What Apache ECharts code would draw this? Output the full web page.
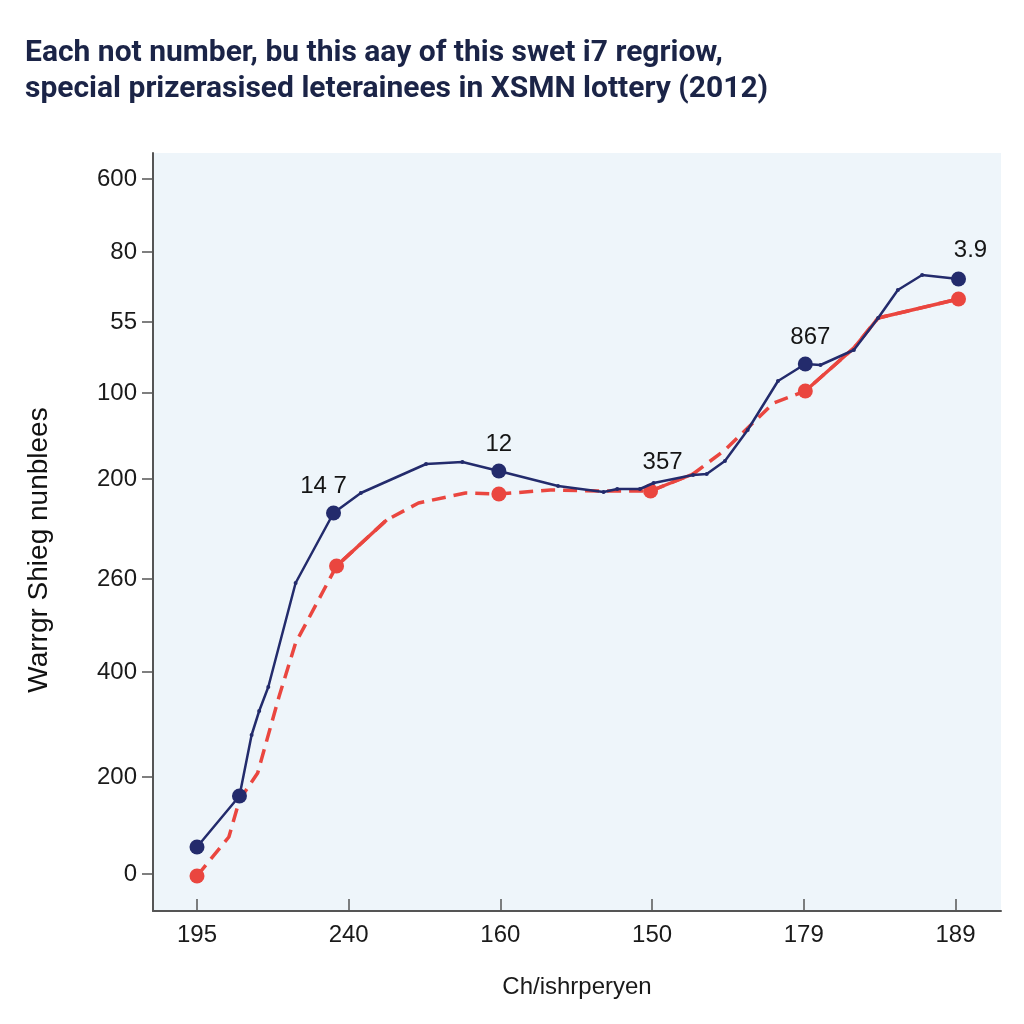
<!DOCTYPE html>
<html>
<head>
<meta charset="utf-8">
<script src="https://cdn.jsdelivr.net/npm/echarts@6/dist/echarts.min.js"></script>
<style>
html,body{margin:0;padding:0;background:#ffffff;}
#chart{width:1024px;height:1024px;}
</style>
</head>
<body>
<div id="chart"></div>
<script>
// ---- data ----
const titleLines = ['Each not number, bu this aay of this swet i7 regriow,', 'special prizerasised leterainees in XSMN lottery (2012)'];
const xAxisName = 'Ch/ishrperyen';
const yAxisName = 'Warrgr Shieg nunblees';

const xTickValues = [0, 1, 2, 3, 4, 5];
const xTickLabels = ['195', '240', '160', '150', '179', '189'];
const yTickValues = [0, 0.97, 2.02, 2.95, 3.95, 4.81, 5.52, 6.22, 6.95];
const yTickLabels = ['0', '200', '400', '260', '200', '100', '55', '80', '600'];

const navyX = [0.00, 0.28, 0.36, 0.41, 0.47, 0.65, 0.90, 1.08, 1.51, 1.75, 1.99, 2.38, 2.68, 2.77, 2.92, 3.01, 3.27, 3.36, 3.48, 3.63, 3.83, 4.01, 4.11, 4.33, 4.49, 4.62, 4.78, 5.02];
const navyY = [0.27, 0.78, 1.39, 1.63, 1.87, 2.91, 3.61, 3.81, 4.10, 4.12, 4.03, 3.88, 3.82, 3.85, 3.85, 3.91, 3.99, 4.00, 4.13, 4.44, 4.93, 5.10, 5.09, 5.24, 5.56, 5.84, 5.99, 5.95];
const navyKey = [0, 1, 6, 10, 21, 27];
const navyLabels = {6: '14 7', 10: '12', 21: '867', 27: '3.9'};

const redX = [0.00, 0.21, 0.28, 0.40, 0.54, 0.65, 0.92, 1.25, 1.46, 1.77, 1.99, 2.33, 2.66, 2.99, 3.27, 3.48, 3.80, 4.01, 4.33, 4.49, 5.02];
const redY = [-0.02, 0.37, 0.74, 1.01, 1.77, 2.31, 3.08, 3.54, 3.71, 3.81, 3.80, 3.84, 3.83, 3.83, 4.00, 4.24, 4.71, 4.83, 5.26, 5.56, 5.75];
const redKey = [0, 6, 10, 13, 17, 20];
const redLabels = {13: '357'};
const redSolidSegments = [[6, 7], [13, 14], [17, 20]];

// ---- chart ----
const NAVY = '#232b6c';
const RED = '#ea463f';
const FONT = 'Liberation Sans';

function nearestLabel(v, vals, labels) {
  let best = 0, bd = Infinity;
  vals.forEach((t, i) => { const d = Math.abs(t - v); if (d < bd) { bd = d; best = i; } });
  return labels[best];
}

const labelOffsets = {navy: {6: [-10, 0], 10: [0, 0], 21: [5, 0], 27: [12, -2]}, red: {13: [12, -2]}};

function buildData(xs, ys, keys, labels, offs, minorSize) {
  return xs.map((x, i) => {
    const item = {value: [x, ys[i]], symbolSize: keys.includes(i) ? 15 : minorSize};
    if (labels[i] !== undefined) {
      item.label = {show: true, formatter: labels[i], position: 'top', distance: 7,
        offset: offs[i] || [0, 0], color: '#151515', fontSize: 24, fontFamily: FONT};
    }
    return item;
  });
}

const series = [];
series.push({
  type: 'line', name: 'red', z: 3,
  data: buildData(redX, redY, redKey, redLabels, labelOffsets.red, 0),
  symbol: 'circle', showAllSymbol: true,
  itemStyle: {color: RED},
  lineStyle: {color: RED, width: 3.5, type: [14, 8]},
  animation: false
});
redSolidSegments.forEach(seg => {
  const d = [];
  for (let i = seg[0]; i <= seg[1]; i++) d.push([redX[i], redY[i]]);
  series.push({type: 'line', z: 3, data: d, symbol: 'none', silent: true,
    lineStyle: {color: RED, width: 3.5}, animation: false});
});
series.push({
  type: 'line', name: 'navy', z: 4,
  data: buildData(navyX, navyY, navyKey, navyLabels, labelOffsets.navy, 4),
  symbol: 'circle', showAllSymbol: true,
  itemStyle: {color: NAVY},
  lineStyle: {color: NAVY, width: 2.5},
  animation: false
});

const chart = echarts.init(document.getElementById('chart'), null, {renderer: 'canvas'});
chart.setOption({
  backgroundColor: '#ffffff',
  animation: false,
  title: {
    text: titleLines.join('\n'),
    left: 20, top: 30,
    textStyle: {fontSize: 30, fontWeight: 'bold', color: '#1b2447', lineHeight: 36, fontFamily: 'Roboto'}
  },
  grid: {left: 153, right: 23, top: 153, bottom: 113, show: true,
    backgroundColor: '#eef5fa', borderWidth: 0},
  xAxis: {
    type: 'value', min: -0.29, max: 5.30,
    name: xAxisName, nameLocation: 'middle', nameGap: 64,
    nameTextStyle: {fontSize: 24, color: '#1a1a1a', fontFamily: FONT},
    axisLine: {onZero: false, lineStyle: {color: '#555', width: 2}},
    axisTick: {show: true, inside: true, length: 12, customValues: xTickValues, lineStyle: {color: '#555', width: 1.5}},
    axisLabel: {customValues: xTickValues, margin: 12, fontSize: 24, color: '#1a1a1a', fontFamily: FONT,
      formatter: v => nearestLabel(v, xTickValues, xTickLabels)},
    splitLine: {show: false}
  },
  yAxis: {
    type: 'value', min: -0.37, max: 7.21,
    name: yAxisName, nameLocation: 'middle', nameGap: 100, nameRotate: 90,
    nameTextStyle: {fontSize: 28, color: '#111', fontFamily: FONT, padding: [0, 36, 0, 0]},
    axisLine: {show: true, onZero: false, lineStyle: {color: '#555', width: 2}},
    axisTick: {show: true, inside: false, length: 11, customValues: yTickValues, lineStyle: {color: '#555', width: 1.5}},
    axisLabel: {customValues: yTickValues, margin: 16, fontSize: 24, color: '#1a1a1a', fontFamily: FONT,
      formatter: v => nearestLabel(v, yTickValues, yTickLabels)},
    splitLine: {show: false}
  },
  series: series
});
</script>
</body>
</html>
